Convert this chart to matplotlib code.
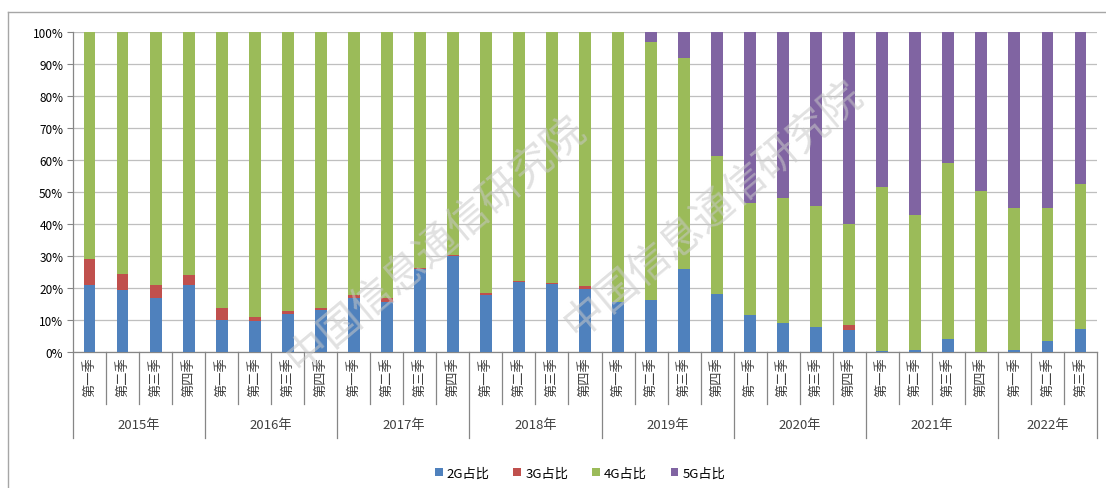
import matplotlib
matplotlib.use("Agg")
import matplotlib.pyplot as plt
import numpy as np
from matplotlib.ticker import PercentFormatter
import matplotlib.lines as mlines

plt.rcParams['font.family'] = ['Noto Sans CJK SC', 'DejaVu Sans']

years = ["2015年", "2016年", "2017年", "2018年", "2019年", "2020年", "2021年", "2022年"]
quarters_per_year = [4, 4, 4, 4, 4, 4, 4, 3]
quarter_names = ["第一季", "第二季", "第三季", "第四季"]

share_2g = [20.8, 19.3, 16.9, 20.8, 10.1, 9.7, 12.0, 13.0,
            16.9, 15.6, 26.0, 29.9, 17.7, 21.9, 21.1, 19.8,
            15.6, 16.4, 26.0, 18.2, 11.5, 9.1, 7.8, 6.8,
            0.2, 0.7, 4.2, 0.0, 0.7, 3.3, 7.3]
share_3g = [8.4, 5.2, 3.9, 3.4, 3.6, 1.2, 0.7, 0.7,
            1.0, 1.3, 0.2, 0.5, 0.6, 0.4, 0.5, 0.8,
            0.0, 0.0, 0.0, 0.0, 0.0, 0.0, 0.0, 1.7,
            0.0, 0.0, 0.0, 0.0, 0.0, 0.0, 0.0]
share_5g = [0, 0, 0, 0, 0, 0, 0, 0,
            0, 0, 0, 0, 0, 0, 0, 0,
            0.0, 3.1, 8.0, 38.9, 53.4, 52.0, 54.5, 60.1,
            48.4, 57.3, 40.8, 49.7, 54.9, 54.9, 47.6]
share_4g = [100 - a - b - c for a, b, c in zip(share_2g, share_3g, share_5g)]

series = [("2G占比", share_2g, "#4F81BD"),
          ("3G占比", share_3g, "#C0504D"),
          ("4G占比", share_4g, "#9BBB59"),
          ("5G占比", share_5g, "#8064A2")]

W, H = 1106, 489
fig = plt.figure(figsize=(W / 100, H / 100), dpi=100)
ax = fig.add_axes([73 / W, 1 - 353 / H, (1097 - 73) / W, (353 - 33) / H])

n = len(share_2g)
x = np.arange(n)
bottom = np.zeros(n)
handles = []
for name, vals, col in series:
    v = np.array(vals) / 100.0
    b = ax.bar(x, v, width=0.36, bottom=bottom, color=col, label=name, zorder=3)
    bottom += v
    handles.append(b)

ax.set_xlim(-0.5, n - 0.5)
ax.set_ylim(0, 1)
ax.set_yticks(np.arange(0, 1.01, 0.1))
ax.yaxis.set_major_formatter(PercentFormatter(1.0, decimals=0))
ax.tick_params(axis='y', labelsize=8.5, length=4, color='#868686', pad=3)
ax.tick_params(axis='x', bottom=False, labelbottom=False)
ax.grid(axis='y', color='#BFBFBF', linewidth=0.9, zorder=0)
for s in ['top', 'right']:
    ax.spines[s].set_visible(False)
for s in ['left', 'bottom']:
    ax.spines[s].set_color('#868686')
    ax.spines[s].set_linewidth(0.9)

trans = ax.get_xaxis_transform()
# quarter labels
idx = 0
bounds = [-0.5]
for yi, (yr, nq) in enumerate(zip(years, quarters_per_year)):
    for q in range(nq):
        ax.text(idx, -0.012, quarter_names[q], rotation=90, ha='center', va='top',
                fontsize=9.5, color='#404040', transform=trans)
        idx += 1
    ax.text(idx - nq / 2 - 0.5, -0.228, yr, ha='center', va='center',
            fontsize=9.5, color='#404040', transform=trans)
    bounds.append(idx - 0.5)

year_bounds = set(bounds)
for k in range(n + 1):
    xb = k - 0.5
    low = -0.27 if xb in year_bounds else -0.163
    ax.add_line(mlines.Line2D([xb, xb], [0, low], color='#868686', lw=0.9,
                              transform=trans, clip_on=False))

# watermark text
for (wx, wy) in [(0.395, 0.50), (0.645, 0.57)]:
    fig.text(wx, wy, "中国信息通信研究院", rotation=40, fontsize=30,
             color='#C8C8C8', alpha=0.55, ha='center', va='center', zorder=10)

# chart frame (left and top)
fig.add_artist(mlines.Line2D([8 / W, 8 / W], [0, 1 - 13 / H], color='#A6A6A6', lw=1.0))
fig.add_artist(mlines.Line2D([8 / W, 1], [1 - 13 / H, 1 - 13 / H], color='#A6A6A6', lw=1.0))

fig.legend(handles=handles, labels=[s[0] for s in series], loc='center',
           bbox_to_anchor=(580 / W, 1 - 474 / H), ncol=4, frameon=False,
           fontsize=9.5, handlelength=0.6, handleheight=0.6, handletextpad=0.3,
           columnspacing=1.8)

fig.savefig("out.png", dpi=100)
